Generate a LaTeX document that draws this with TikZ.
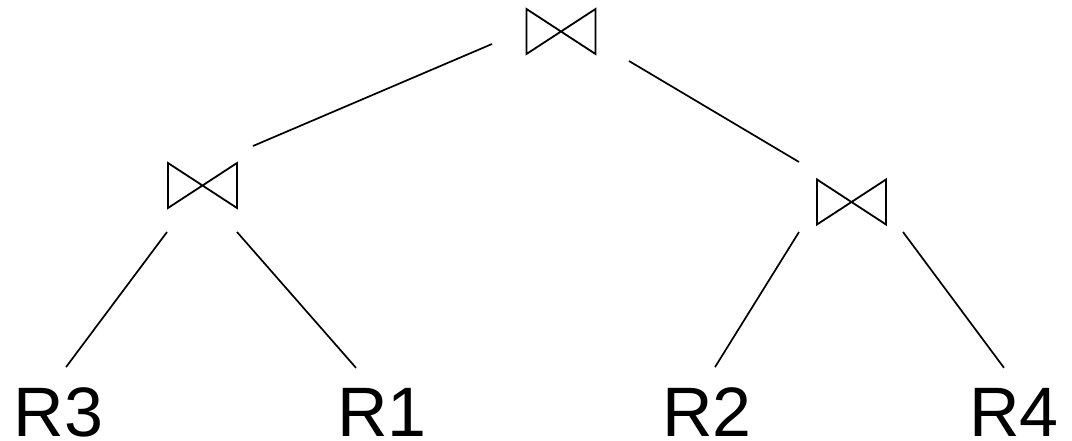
\documentclass[tikz,border=0pt]{standalone}
\usepackage{fontspec}
\setmainfont{Liberation Sans}
\begin{document}
\begin{tikzpicture}[x=1pt,y=-1pt,
  joinnode/.style={rectangle,minimum width=69pt,minimum height=45pt,inner sep=0pt,outer sep=0pt},
  bow/.style={draw=black,line width=1.8pt,line join=miter},
  rel/.style={font=\fontsize{70}{84}\selectfont,inner sep=0pt,outer sep=0pt,anchor=base},
  conn/.style={draw=black,line width=1.7pt}]
\useasboundingbox (0,0) rectangle (1072,441);
% join operators
\node[joinnode] (top) at (561,31.5) {};
\node[joinnode] (left) at (202.5,185.5) {};
\node[joinnode] (right) at (851.5,202) {};
\foreach \n in {top,left,right}
  \draw[bow] (\n.north west) -- (\n.south east) -- (\n.north east) -- (\n.south west) -- cycle;
% relations
\node[rel] (r3) at (58.5,436) {R3};
\node[rel] (r1) at (382,436) {R1};
\node[rel] (r2) at (707,436) {R2};
\node[rel] (r4) at (1014,436) {R4};
% connectors
\draw[conn] ([shift={(-69,12.5)}]top.center) -- ([shift={(50.5,-39.5)}]left.center);
\draw[conn] ([shift={(68,29.5)}]top.center) -- ([shift={(-52.5,-40)}]right.center);
\draw[conn] ([shift={(-35.5,46.5)}]left.center) -- ([shift={(7.5,-20)}]r3.north);
\draw[conn] ([shift={(34.5,46.5)}]left.center) -- ([shift={(-26,-20)}]r1.north);
\draw[conn] ([shift={(-52.5,30)}]right.center) -- ([shift={(8,-20)}]r2.north);
\draw[conn] ([shift={(51.5,30)}]right.center) -- ([shift={(-10,-20)}]r4.north);
\end{tikzpicture}
\end{document}
